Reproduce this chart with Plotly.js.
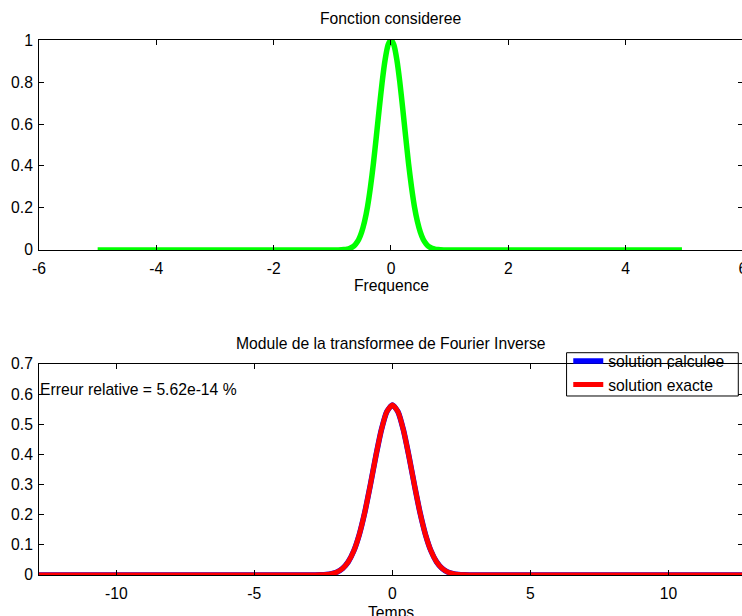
<!DOCTYPE html>
<html>
<head>
<meta charset="utf-8">
<script src="https://cdn.plot.ly/plotly-3.0.1.min.js"></script>
<style>
html,body{margin:0;padding:0;overflow:hidden;background:#fff;}
#chart{width:744px;height:616px;}
</style>
</head>
<body>
<div id="chart"></div>
<script>
// ---- Data ----
// Top: "Fonction consideree" vs Frequence
var frequence = [-5, -1.2, -1.0, -0.9, -0.8, -0.75, -0.7, -0.65, -0.6, -0.55, -0.5, -0.45, -0.4, -0.35, -0.3, -0.25, -0.2, -0.15, -0.1, -0.05, 0,
                 0.05, 0.1, 0.15, 0.2, 0.25, 0.3, 0.35, 0.4, 0.45, 0.5, 0.55, 0.6, 0.65, 0.7, 0.75, 0.8, 0.9, 1.0, 1.2, 4.96];
var fonction = [0, 0, 0.0001, 0.0003, 0.002, 0.004, 0.008, 0.015, 0.029, 0.05, 0.085, 0.136, 0.206, 0.299, 0.411, 0.54, 0.674, 0.801, 0.906, 0.976, 1,
                0.976, 0.906, 0.801, 0.674, 0.54, 0.411, 0.299, 0.206, 0.136, 0.085, 0.05, 0.029, 0.015, 0.008, 0.004, 0.002, 0.0003, 0.0001, 0, 0];

// Bottom: module of the inverse Fourier transform vs Temps
var temps = [-12.8, -5, -3.5, -3.0, -2.8, -2.6, -2.4, -2.2, -2.0, -1.8, -1.6, -1.4, -1.2, -1.0, -0.8, -0.6, -0.4, -0.2, 0,
             0.2, 0.4, 0.6, 0.8, 1.0, 1.2, 1.4, 1.6, 1.8, 2.0, 2.2, 2.4, 2.6, 2.8, 3.0, 3.5, 5, 12.7];
var solCalculee = [0, 0, 0, 0.0001, 0.0002, 0.0007, 0.0018, 0.0045, 0.0103, 0.0221, 0.0436, 0.0795, 0.1337, 0.2076, 0.2975, 0.394, 0.481, 0.542, 0.564,
                   0.542, 0.481, 0.394, 0.2975, 0.2076, 0.1337, 0.0795, 0.0436, 0.0221, 0.0103, 0.0045, 0.0018, 0.0007, 0.0002, 0.0001, 0, 0, 0];
var solExacte = [0, 0, 0, 0.0001, 0.0002, 0.0007, 0.0018, 0.0045, 0.0103, 0.0221, 0.0436, 0.0795, 0.1337, 0.2076, 0.2975, 0.394, 0.481, 0.542, 0.564,
                 0.542, 0.481, 0.394, 0.2975, 0.2076, 0.1337, 0.0795, 0.0436, 0.0221, 0.0103, 0.0045, 0.0018, 0.0007, 0.0002, 0.0001, 0, 0, 0];

// Tick labels
var topXTicks = [-6, -4, -2, 0, 2, 4, 6];
var topXLabels = ['-6', '-4', '-2', '0', '2', '4', '6'];
var topYTicks = [0, 0.2, 0.4, 0.6, 0.8, 1];
var topYLabels = ['0', '0.2', '0.4', '0.6', '0.8', '1'];
var botXTicks = [-10, -5, 0, 5, 10];
var botXLabels = ['-10', '-5', '0', '5', '10'];
var botYTicks = [0, 0.1, 0.2, 0.3, 0.4, 0.5, 0.6, 0.7];
var botYLabels = ['0', '0.1', '0.2', '0.3', '0.4', '0.5', '0.6', '0.7'];

var FONT = 'Liberation Sans, Arial, Helvetica, sans-serif';
var FS = 15.7;

var traces = [
  {x: frequence, y: fonction, xaxis: 'x', yaxis: 'y', type: 'scatter', mode: 'lines',
   line: {color: '#00ff00', width: 5.5, shape: 'spline', smoothing: 0.6}, showlegend: false, name: 'fonction'},
  {x: temps, y: solCalculee, xaxis: 'x2', yaxis: 'y2', type: 'scatter', mode: 'lines',
   line: {color: '#0000ff', width: 5.5, shape: 'spline', smoothing: 0.6}, name: 'solution calculee'},
  {x: temps, y: solExacte, xaxis: 'x2', yaxis: 'y2', type: 'scatter', mode: 'lines',
   line: {color: '#ff0000', width: 5, shape: 'spline', smoothing: 0.6}, name: 'solution exacte'}
];

function ax(extra) {
  var base = {showline: true, linecolor: '#000', linewidth: 1, mirror: 'ticks',
    ticks: 'inside', ticklen: 5, tickcolor: '#000', tickwidth: 1,
    showgrid: false, zeroline: false, fixedrange: true, ticklabeloverflow: 'allow',
    tickfont: {family: FONT, size: FS, color: '#000'}};
  for (var k in extra) base[k] = extra[k];
  return base;
}

function txt(s, xr, yr, x, y, xa) {
  return {text: s, xref: xr, yref: yr, x: x, y: y, xanchor: xa || 'center', yanchor: 'middle',
          showarrow: false, borderpad: 0, font: {family: FONT, size: FS, color: '#000'}};
}

var layout = {
  width: 744, height: 616,
  margin: {l: 39, r: 1, t: 40, b: 41, pad: 0},
  paper_bgcolor: '#fff', plot_bgcolor: '#fff',
  font: {family: FONT, size: FS, color: '#000'},
  showlegend: true,
  xaxis: ax({domain: [0, 1], anchor: 'y', range: [-6, 6.0005], tickmode: 'array', tickvals: topXTicks, ticktext: topXLabels,
             ticklabelstandoff: 4}),
  yaxis: ax({domain: [0.6075, 1], anchor: 'x', range: [0, 1], tickmode: 'array', tickvals: topYTicks, ticktext: topYLabels,
             ticklabelstandoff: 2}),
  xaxis2: ax({domain: [0, 1], anchor: 'y2', range: [-12.8, 12.7], tickmode: 'array', tickvals: botXTicks, ticktext: botXLabels,
              ticklabelstandoff: 4}),
  yaxis2: ax({domain: [0, 0.3944], anchor: 'x2', range: [0, 0.7], tickmode: 'array', tickvals: botYTicks, ticktext: botYLabels,
              ticklabelstandoff: 2}),
  legend: {x: 0.7518, y: 0.4312, xanchor: 'left', yanchor: 'top', xref: 'paper', yref: 'paper',
           bgcolor: 'rgba(0,0,0,0)', borderwidth: 0,
           font: {family: FONT, size: FS, color: '#000'}},
  shapes: [
    // legend frame
    {type: 'rect', xref: 'paper', yref: 'paper', x0: 0.7494, x1: 0.9933, y0: 0.3346, y1: 0.4155,
     line: {color: '#000', width: 1}, fillcolor: 'rgba(0,0,0,0)', layer: 'above'}
  ],
  annotations: [
    txt('Fonction consideree', 'paper', 'paper', 0.5, 1.0393),
    txt('Frequence', 'paper', 'paper', 0.5, 0.5409),
    txt('Module de la transformee de Fourier Inverse', 'paper', 'paper', 0.5, 0.4318),
    txt('Temps', 'paper', 'paper', 0.5, -0.0692),
    txt('Erreur relative = 5.62e-14 %', 'x2', 'y2', -12.8, 0.616, 'left')
  ]
};

Plotly.newPlot('chart', traces, layout, {displayModeBar: false, staticPlot: true}).then(function (gd) {
  // let thick lines overhang the axes as in the reference (no clipping at y = 0 / y = 1)
  var plots = gd.querySelectorAll('.cartesianlayer .plot');
  for (var i = 0; i < plots.length; i++) plots[i].removeAttribute('clip-path');
});
</script>
</body>
</html>
